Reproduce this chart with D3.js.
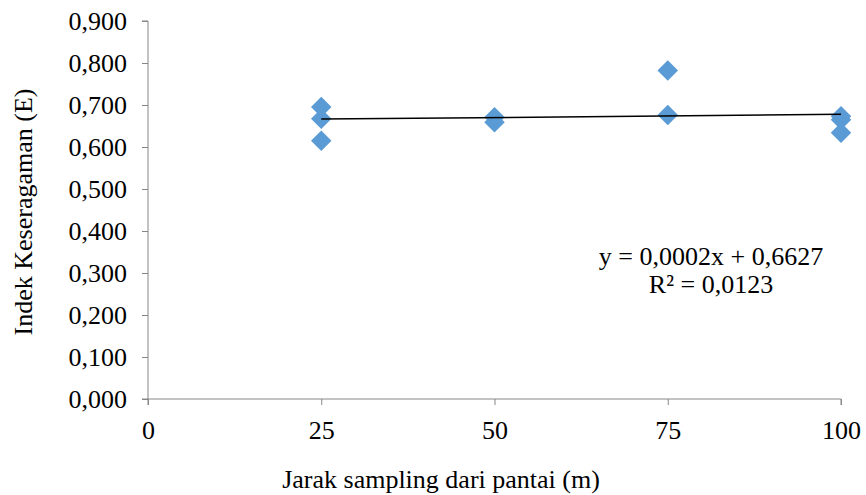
<!DOCTYPE html>
<html>
<head>
<meta charset="utf-8">
<script src="https://cdn.jsdelivr.net/npm/d3@7"></script>
<style>
  body { margin: 0; background: #fff; }
</style>
</head>
<body>
<svg id="chart" width="866" height="495"></svg>
<script>
// data
var distances = [25, 25, 25, 50, 50, 75, 75, 100, 100, 100]
var evenness = [0.695, 0.667, 0.615, 0.671, 0.659, 0.782, 0.676, 0.673, 0.665, 0.634]
var xTicks = [0, 25, 50, 75, 100]
var yTicks = [0, 0.1, 0.2, 0.3, 0.4, 0.5, 0.6, 0.7, 0.8, 0.9]
var trendSlope = 0.00015
var trendIntercept = 0.6627
var trendRange = [25, 100]
var equationLines = ["y = 0,0002x + 0,6627", "R² = 0,0123"]

main()

function main() {
  var LEFT = 148
  var RIGHT = 841
  var TOP = 21
  var BOTTOM = 399
  var AXIS_COLOR = "#868686"
  var POINT_COLOR = "#5B9BD5"
  var FONT = "Liberation Serif"
  var FONT_SIZE = 26

  var svg = d3.select("#chart")

  var x = d3.scaleLinear().domain([0, 100]).range([LEFT, RIGHT])
  var y = d3.scaleLinear().domain([0, 0.9]).range([BOTTOM, TOP])

  var fmt = function(d) { return d3.format(".3f")(d).replace(".", ",") }

  // y axis
  var yAxis = svg.append("g")
      .attr("transform", "translate(" + LEFT + ",0)")
      .call(d3.axisLeft(y).tickValues(yTicks).tickFormat(fmt).tickSize(6).tickPadding(15))
  yAxis.attr("font-family", FONT).attr("font-size", FONT_SIZE)
  yAxis.selectAll("text")
      .attr("font-family", FONT)
      .attr("font-size", FONT_SIZE)
      .attr("fill", "#000")
  yAxis.selectAll("line").attr("stroke", AXIS_COLOR)
  yAxis.select(".domain").attr("stroke", AXIS_COLOR).attr("d", "M0," + (BOTTOM + 6) + "V" + TOP + "H-6")

  // x axis
  var xAxis = svg.append("g")
      .attr("transform", "translate(0," + BOTTOM + ")")
      .call(d3.axisBottom(x).tickValues(xTicks).tickFormat(d3.format("d")).tickSize(6).tickPadding(16))
  xAxis.attr("font-family", FONT).attr("font-size", FONT_SIZE)
  xAxis.selectAll("text")
      .attr("font-family", FONT)
      .attr("font-size", FONT_SIZE)
      .attr("fill", "#000")
  xAxis.selectAll("line").attr("stroke", AXIS_COLOR)
  xAxis.select(".domain").attr("stroke", AXIS_COLOR).attr("d", "M" + (LEFT - 6) + ",0H" + RIGHT + "V6")

  // axis titles
  svg.append("text")
      .attr("x", 441)
      .attr("y", 488)
      .attr("text-anchor", "middle")
      .attr("font-family", FONT)
      .attr("font-size", FONT_SIZE)
      .text("Jarak sampling dari pantai (m)")

  svg.append("text")
      .attr("transform", "translate(32,212) rotate(-90)")
      .attr("text-anchor", "middle")
      .attr("font-family", FONT)
      .attr("font-size", FONT_SIZE)
      .text("Indek Keseragaman (E)")

  // points
  var points = distances.map(function(d, i) { return { x: d, y: evenness[i] } })
  var diamond = d3.symbol().type(d3.symbolSquare).size(210)

  svg.append("g").selectAll("path")
      .data(points)
      .enter().append("path")
      .attr("d", diamond)
      .attr("transform", function(d) {
        return "translate(" + x(d.x) + "," + y(d.y) + ") rotate(45)"
      })
      .attr("fill", POINT_COLOR)

  // trend line
  var line = d3.line()
      .x(function(d) { return x(d) })
      .y(function(d) { return y(trendSlope * d + trendIntercept) })

  svg.append("path")
      .datum(trendRange)
      .attr("d", line)
      .attr("fill", "none")
      .attr("stroke", "#000")
      .attr("stroke-width", 1.5)

  // equation
  svg.append("g").selectAll("text")
      .data(equationLines)
      .enter().append("text")
      .attr("x", 711)
      .attr("y", function(d, i) { return 265 + i * 28 })
      .attr("text-anchor", "middle")
      .attr("font-family", FONT)
      .attr("font-size", FONT_SIZE)
      .text(function(d) { return d })
}
</script>
</body>
</html>
